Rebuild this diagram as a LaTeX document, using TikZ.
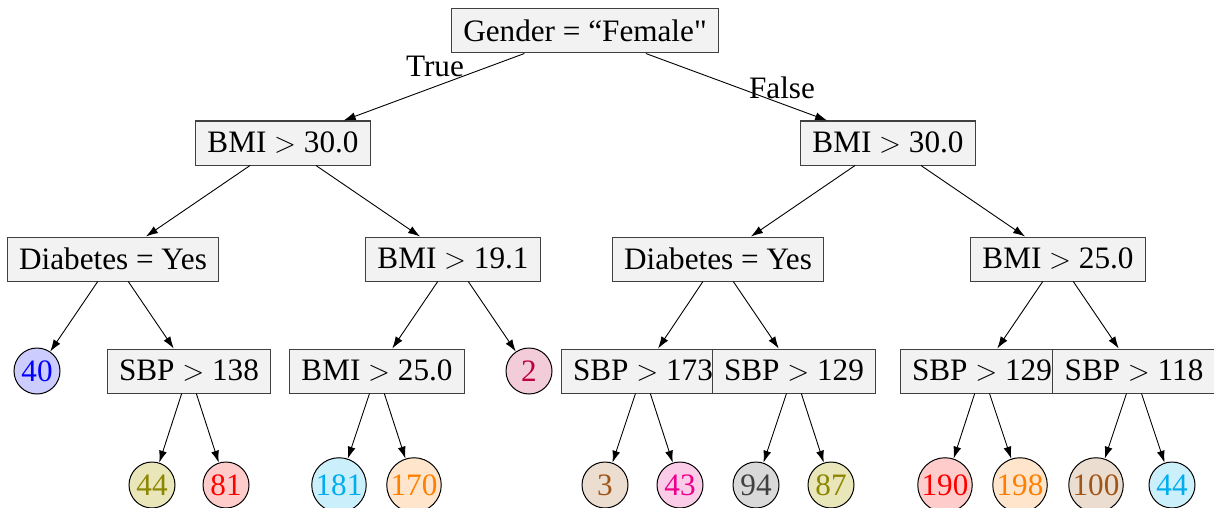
\documentclass[tikz,border=0pt]{standalone}
\usepackage{fontspec}
\setmainfont{Liberation Serif}[Ligatures=TeXOff]
\usetikzlibrary{arrows.meta}
\definecolor{leafbrown}{RGB}{160,85,25}
\begin{document}
\begin{tikzpicture}[x=0.5pt,y=-0.5pt,
  txt/.style={font=\fontsize{15.6}{18}\selectfont},
  test/.style={txt, rectangle, draw=black!75, fill=black!5, line width=0.5pt,
    minimum height=22pt, inner xsep=6pt, inner ysep=0pt},
  leaf/.style={txt, circle, draw=black, line width=0.5pt, fill=#1!20, text=#1,
    minimum size=23pt, inner sep=0.6pt},
  edge/.style={-{Latex[length=6pt,width=4pt]}, line width=0.45pt}]
\useasboundingbox (0,0) rectangle (1214,508);
\clip (0,0) rectangle (1214,508);

% decision nodes
\node[test] (root) at (585,31) {Gender = “Female"};
\node[test] (a)  at (283,143) {BMI $>$ 30.0};
\node[test] (b)  at (888,143) {BMI $>$ 30.0};
\node[test] (aa) at (113,259) {Diabetes = Yes};
\node[test] (ab) at (453,259) {BMI $>$ 19.1};
\node[test] (ba) at (718,259) {Diabetes = Yes};
\node[test] (bb) at (1058,259) {BMI $>$ 25.0};
\node[test] (aab) at (189,371) {SBP $>$ 138};
\node[test] (aba) at (377,371) {BMI $>$ 25.0};
\node[test] (baa) at (643,371) {SBP $>$ 173};
\node[test] (bab) at (794,371) {SBP $>$ 129};
\node[test] (bba) at (982,371) {SBP $>$ 129};
\node[test] (bbb) at (1134,371) {SBP $>$ 118};

% leaves
\node[leaf=blue]    (aaa)  at (37,371)  {40};
\node[leaf=purple]  (abb)  at (529,371) {2};
\node[leaf=olive]   (aaba) at (152,485) {44};
\node[leaf=red]     (aabb) at (226,485) {81};
\node[leaf=cyan]    (abaa) at (339,485) {181};
\node[leaf=orange]  (abab) at (414,485) {170};
\node[leaf=leafbrown] (baaa) at (605,485) {3};
\node[leaf=magenta] (baab) at (680,485) {43};
\node[leaf=gray, fill=gray!30, text=darkgray] (baba) at (756,485) {94};
\node[leaf=olive]   (babb) at (831,485) {87};
\node[leaf=red]     (bbaa) at (945,485) {190};
\node[leaf=orange]  (bbab) at (1020,485) {198};
\node[leaf=leafbrown] (bbba) at (1096,485) {100};
\node[leaf=cyan]    (bbbb) at (1172,485) {44};

% branches
\draw[edge] (root) -- (a);
\draw[edge] (root) -- (b);
\draw[edge] (a) -- (aa);
\draw[edge] (a) -- (ab);
\draw[edge] (b) -- (ba);
\draw[edge] (b) -- (bb);
\draw[edge] (aa) -- (aaa);
\draw[edge] (aa) -- (aab);
\draw[edge] (ab) -- (aba);
\draw[edge] (ab) -- (abb);
\draw[edge] (ba) -- (baa);
\draw[edge] (ba) -- (bab);
\draw[edge] (bb) -- (bba);
\draw[edge] (bb) -- (bbb);
\draw[edge] (aab) -- (aaba);
\draw[edge] (aab) -- (aabb);
\draw[edge] (aba) -- (abaa);
\draw[edge] (aba) -- (abab);
\draw[edge] (baa) -- (baaa);
\draw[edge] (baa) -- (baab);
\draw[edge] (bab) -- (baba);
\draw[edge] (bab) -- (babb);
\draw[edge] (bba) -- (bbaa);
\draw[edge] (bba) -- (bbab);
\draw[edge] (bbb) -- (bbba);
\draw[edge] (bbb) -- (bbbb);

% branch labels
\node[txt, inner sep=0pt] (lt) at (435,66) {True};
\node[txt, inner sep=0pt] (lf) at (782,88) {False};
\end{tikzpicture}
\end{document}
